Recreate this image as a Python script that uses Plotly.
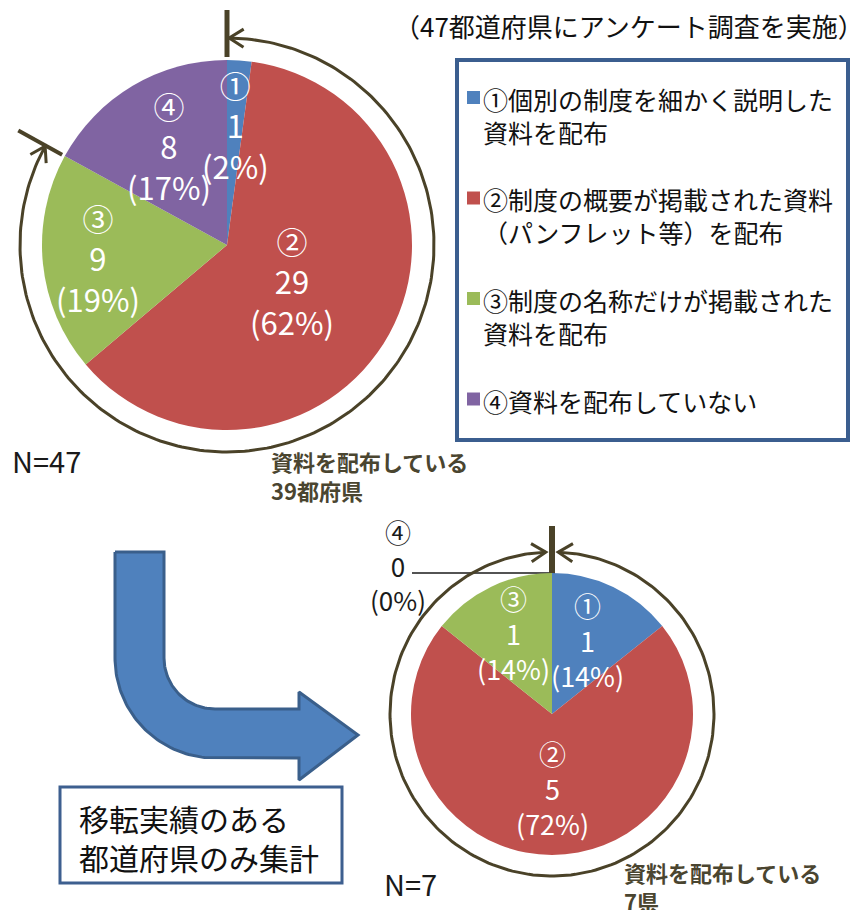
import numpy as np
import plotly.graph_objects as go

W, H = 867, 910
FONT = "Noto Sans CJK JP"
INK = "#4a4228"

# ---- data -------------------------------------------------------------
marks = ["①", "②", "③", "④"]
legend_labels = [
    "①個別の制度を細かく説明した<br>資料を配布",
    "②制度の概要が掲載された資料<br>（パンフレット等）を配布",
    "③制度の名称だけが掲載された<br>資料を配布",
    "④資料を配布していない",
]
colors = ["#4f81bd", "#c0504d", "#9bbb59", "#8064a2"]

# all prefectures surveyed (N=47)
all_counts = [1, 29, 9, 8]
all_pct = [2, 62, 19, 17]

# prefectures with relocation records only (N=7)
moved_counts = [1, 5, 1, 0]
moved_pct = [14, 72, 14, 0]


# ---- helpers (pixel space, y down) -------------------------------------
def to_xy(px, py):
    return px, H - py


def polar(cx, cy, r, deg):
    t = np.radians(deg)
    return cx + r * np.sin(t), cy - r * np.cos(t)


def arc(cx, cy, r, a0, a1, n=240):
    ang = np.linspace(a0, a1, n)
    return [polar(cx, cy, r, a) for a in ang]


def chevron(tip, direction, length=17, half=32):
    d = np.array(direction, float)
    d /= np.linalg.norm(d)
    pts = []
    for s in (half, -half):
        t = np.radians(s)
        rot = np.array([d[0] * np.cos(t) - d[1] * np.sin(t),
                        d[0] * np.sin(t) + d[1] * np.cos(t)])
        pts.append((tip[0] - length * rot[0], tip[1] - length * rot[1]))
    return [pts[0], tip, pts[1]]


def add_line(fig, pts, color, width):
    xs, ys = [], []
    for p in pts:
        if p is None:
            xs.append(None)
            ys.append(None)
        else:
            x, y = to_xy(*p)
            xs.append(x)
            ys.append(y)
    fig.add_trace(go.Scatter(x=xs, y=ys, mode="lines", hoverinfo="skip",
                             showlegend=False,
                             line=dict(color=color, width=width)))


fig = go.Figure()
annotations = []
shapes = []


def note(px, py, text, size, color="#1a1a1a", xanchor="center",
         yanchor="middle", bold=False, align="center"):
    x, y = to_xy(px, py)
    if bold:
        text = "<b>" + text.replace("<br>", "</b><br><b>") + "</b>"
    annotations.append(dict(x=x, y=y, xref="x", yref="y", text=text,
                            showarrow=False, xanchor=xanchor,
                            yanchor=yanchor, align=align,
                            font=dict(family=FONT, size=size, color=color)))


# ---- pies --------------------------------------------------------------
pies = [
    dict(counts=all_counts, pct=all_pct, cx=227, cy=245, r=185, fs=31,
         frac=[0.65, 0.40, 0.70, 0.62]),
    dict(counts=moved_counts, pct=moved_pct, cx=552, cy=714, r=141, fs=27,
         frac=[0.58, 0.53, 0.63, 0.0]),
]

for p in pies:
    cx, cy, r = p["cx"], p["cy"], p["r"]
    fig.add_trace(go.Pie(
        values=p["counts"], labels=marks, sort=False, direction="clockwise",
        rotation=0, textinfo="none", hoverinfo="skip", showlegend=False,
        marker=dict(colors=colors, line=dict(width=0)),
        domain=dict(x=[(cx - r) / W, (cx + r) / W],
                    y=[(H - cy - r) / H, (H - cy + r) / H]),
    ))
    total = sum(p["counts"])
    cum = 0
    for i, v in enumerate(p["counts"]):
        label = f"{marks[i]}<br>{v}<br>({p['pct'][i]}%)"
        if v > 0:
            mid = (cum + v / 2) / total * 360
            lx, ly = polar(cx, cy, p["frac"][i] * r, mid)
            note(lx, ly, label, p["fs"], color="white")
        else:
            ax, ay = polar(cx, cy, r, cum / total * 360)
            add_line(fig, [(ax - 140, ay), (ax, ay)], "#1a1a1a", 1.5)
            note(ax - 154, ay - 8, label, p["fs"] - 1)
        cum += v

# ---- rings with arrows around the distributing share --------------------
# top pie: from 12 o'clock to the ③/④ boundary
p = pies[0]
cx, cy = p["cx"], p["cy"]
tot = sum(all_counts)
b34 = sum(all_counts[:3]) / tot * 360
R = 207
a0, a1 = 0.6, b34 - 0.2
pts = arc(cx, cy, R, a0, a1)
t0 = np.radians(a0)
t1 = np.radians(a1)
ring = pts + [None] + chevron(pts[0], (-np.cos(t0), -np.sin(t0))) + [None] \
    + chevron(pts[-1], (np.cos(t1), np.sin(t1)))
add_line(fig, ring, INK, 3)
add_line(fig, [polar(cx, cy, 188, 0), polar(cx, cy, 235, 0)], INK, 5)
add_line(fig, [polar(cx, cy, 188, b34), polar(cx, cy, 238, b34)], INK, 4)

# bottom pie: the whole circle
p = pies[1]
cx, cy = p["cx"], p["cy"]
R = 162
a0, a1 = 2.2, 357.8
pts = arc(cx, cy, R, a0, a1)
t0 = np.radians(a0)
t1 = np.radians(a1)
ring = pts + [None] + chevron(pts[0], (-np.cos(t0), -np.sin(t0))) + [None] \
    + chevron(pts[-1], (np.cos(t1), np.sin(t1)))
add_line(fig, ring, INK, 3)
add_line(fig, [polar(cx, cy, 140, 0), polar(cx, cy, 188, 0)], INK, 6)

# ---- bent block arrow ----------------------------------------------------
ccx, ccy = 215, 658
inner = [(ccx + 51 * np.cos(a), ccy + 51 * np.sin(a))
         for a in np.linspace(np.pi, np.pi / 2, 40)]
outer = [(ccx + 100 * np.cos(a), ccy + 100 * np.sin(a))
         for a in np.linspace(np.pi / 2, np.pi, 60)]
poly = [(115, 552), (164, 552)] + inner + \
    [(299, 709), (299, 692), (358, 735), (299, 780), (299, 758)] + outer + \
    [(115, 552)]
ax_, ay_ = zip(*[to_xy(*q) for q in poly])
fig.add_trace(go.Scatter(x=list(ax_), y=list(ay_), mode="lines", fill="toself",
                         fillcolor="#4f81bd", hoverinfo="skip",
                         showlegend=False,
                         line=dict(color="#3a5f8b", width=3)))


# ---- boxes -------------------------------------------------------------
def rect(x0, y0, x1, y1, color, width):
    X0, Y0 = to_xy(x0, y0)
    X1, Y1 = to_xy(x1, y1)
    shapes.append(dict(type="rect", xref="x", yref="y", x0=X0, y0=Y0,
                       x1=X1, y1=Y1, fillcolor="white", layer="below",
                       line=dict(color=color, width=width)))


rect(457, 60, 848, 440, "#3b5e8f", 4)
rect(60, 787, 342, 883, "#3d5f8f", 3)

# legend
for i, lab in enumerate(legend_labels):
    yc = 99 + 100.5 * i
    X0, Y0 = to_xy(467, yc - 8)
    X1, Y1 = to_xy(480, yc + 5)
    shapes.append(dict(type="rect", xref="x", yref="y", x0=X0, y0=Y0,
                       x1=X1, y1=Y1, fillcolor=colors[i],
                       line=dict(width=0), layer="above"))
    nl = lab.count("<br>") + 1
    note(481, yc + (nl - 1) * 32.5 / 2, lab, 25, xanchor="left",
         align="left", color="#111111")

# ---- texts -------------------------------------------------------------
note(866, 25, "（47都道府県にアンケート調査を実施）", 26, xanchor="right",
     color="#111111")
note(10, 460, "N=47", 29, xanchor="left")
note(382, 883, "N=7", 29, xanchor="left")
note(269, 475, f"資料を配布している<br>{sum(all_counts[:3])}都府県", 22,
     color="#4a4530", xanchor="left", align="left", bold=True)
note(622, 886, f"資料を配布している<br>{sum(moved_counts[:3])}県", 22,
     color="#4a4530", xanchor="left", align="left", bold=True)
note(77, 837, "移転実績のある<br>都道府県のみ集計", 30, xanchor="left",
     align="left", color="#111111")

fig.update_layout(
    width=W, height=H, margin=dict(l=0, r=0, t=0, b=0),
    paper_bgcolor="white", plot_bgcolor="white",
    xaxis=dict(range=[0, W], visible=False, fixedrange=True),
    yaxis=dict(range=[0, H], visible=False, fixedrange=True),
    showlegend=False, annotations=annotations, shapes=shapes,
)
fig.write_html("out.html")
